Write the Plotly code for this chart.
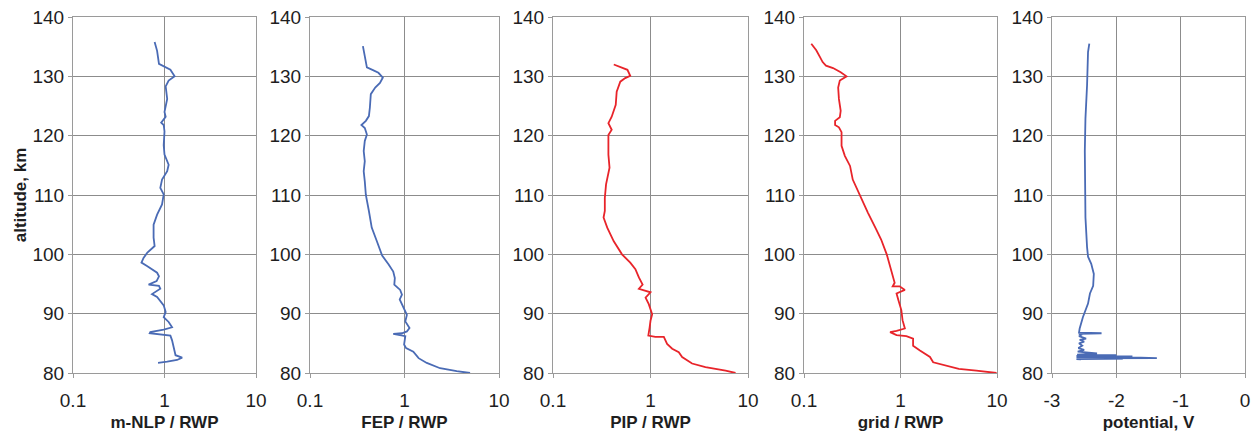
import plotly.graph_objects as go

# ---- data ----
alt_nlp = [135.8, 134.3, 132.1, 131.5, 131.1, 130.0, 129.3, 128.3, 126.2, 124.0, 123.2, 122.2, 121.8, 120.7, 118.4,
           116.8, 115.1, 114.0, 112.6, 111.2, 110.1, 108.4, 106.7, 105.0, 102.8, 101.4, 100.3, 99.4, 98.6, 98.0,
           96.9, 96.3, 95.5, 94.9, 94.7, 94.2, 93.3, 92.8, 91.4, 90.3, 89.4, 88.6, 87.7, 87.3, 87.1, 86.9, 86.7,
           86.5, 86.3, 85.5, 84.1, 83.0, 82.6, 82.2, 81.9, 81.7]
val_nlp = [0.78, 0.83, 0.87, 1.03, 1.16, 1.29, 1.11, 1.03, 1.07, 1.00, 1.03, 0.92, 0.98, 1.00, 0.98,
           1.00, 1.11, 1.07, 0.94, 0.90, 0.98, 0.94, 0.83, 0.76, 0.76, 0.78, 0.65, 0.59, 0.56, 0.65,
           0.83, 0.87, 0.82, 0.67, 0.87, 0.90, 0.73, 0.83, 0.98, 1.03, 0.98, 1.11, 1.21, 0.98, 0.83, 0.70, 0.69,
           0.90, 1.16, 1.21, 1.26, 1.32, 1.56, 1.37, 1.07, 0.85]

alt_fep = [135.1, 133.7, 132.0, 131.5, 131.0, 130.6, 129.8, 128.9, 128.1, 127.0, 124.7, 123.3, 122.5, 121.8, 121.3,
           120.2, 119.1, 117.4, 115.7, 114.0, 112.3, 110.0, 107.3, 104.5, 102.2, 99.8, 98.3, 97.1, 96.0, 94.9,
           94.0, 93.2, 92.4, 91.0, 89.8, 88.7, 87.6, 87.0, 86.7, 86.6, 86.2, 84.8, 84.2, 83.6, 82.5, 81.7,
           80.8, 80.3, 80.0]
val_fep = [0.363, 0.375, 0.39, 0.40, 0.47, 0.53, 0.59, 0.55, 0.49, 0.44, 0.43, 0.42, 0.39, 0.35, 0.38,
           0.40, 0.38, 0.37, 0.38, 0.37, 0.38, 0.39, 0.42, 0.45, 0.51, 0.58, 0.68, 0.76, 0.79, 0.78,
           0.90, 0.94, 0.89, 0.98, 1.06, 1.02, 1.13, 1.06, 0.94, 0.76, 1.02, 0.99, 1.04, 1.24, 1.41, 1.72,
           2.38, 3.57, 4.94]

alt_pip = [132.0, 131.4, 131.1, 130.1, 129.7, 129.1, 127.4, 125.2, 123.2, 122.1, 121.0, 120.1, 116.8, 114.6, 111.8,
           109.5, 107.3, 106.2, 104.5, 102.2, 100.0, 98.6, 97.5, 96.1, 94.9, 94.2, 93.9, 93.6, 92.7, 91.6,
           89.9, 88.8, 87.7, 86.6, 86.3, 86.1, 86.1, 84.9, 84.1, 83.5, 82.7, 81.6, 81.0, 80.4, 80.0]
val_pip = [0.42, 0.51, 0.58, 0.62, 0.55, 0.49, 0.45, 0.44, 0.40, 0.37, 0.40, 0.37, 0.37, 0.38, 0.35,
           0.34, 0.34, 0.33, 0.36, 0.42, 0.51, 0.62, 0.70, 0.76, 0.83, 0.76, 0.89, 1.00, 0.89, 0.96,
           1.04, 1.00, 0.98, 0.96, 0.95, 1.12, 1.37, 1.48, 1.67, 1.95, 2.11, 2.67, 3.66, 5.89, 7.45]

alt_grid = [135.5, 134.4, 133.2, 132.4, 131.8, 131.4, 130.7, 130.0, 129.3, 128.1, 126.2, 124.2, 123.1, 122.5, 121.8,
            121.4, 120.6, 118.3, 116.6, 114.9, 112.6, 109.8, 107.0, 104.2, 102.5, 100.0, 98.0, 96.3, 95.2, 94.6,
            94.6, 94.0, 93.4, 92.3, 90.6, 88.9, 87.5, 87.1, 86.9, 86.4, 86.2, 85.8, 84.6, 83.8, 82.7, 81.8,
            81.2, 80.7, 80.4, 80.0]
val_grid = [0.119, 0.134, 0.147, 0.156, 0.169, 0.20, 0.24, 0.276, 0.235, 0.226, 0.23, 0.24, 0.235, 0.21, 0.21,
            0.23, 0.245, 0.245, 0.265, 0.30, 0.32, 0.38, 0.46, 0.56, 0.63, 0.72, 0.78, 0.84, 0.87, 0.83,
            0.98, 1.11, 0.91, 0.95, 1.02, 1.05, 1.11, 0.91, 0.78, 0.91, 1.15, 1.35, 1.35, 1.59, 2.02, 2.18,
            3.04, 4.02, 6.12, 9.9]

alt_pot = [135.5, 134.1, 128.5, 122.9, 117.4, 111.8, 106.2, 101.2, 99.6, 98.4, 96.7, 94.7, 93.4, 91.7, 89.4,
           87.5, 86.8, 86.7, 86.6, 86.4, 86.2, 85.8, 85.6, 85.3, 85.0, 84.6, 84.2, 83.9, 83.6, 83.3,
           83.1, 83.0, 82.9, 82.8, 82.7, 82.6, 82.55, 82.5, 82.45, 82.4, 82.35, 82.3]
val_pot = [-2.42, -2.44, -2.455, -2.48, -2.49, -2.49, -2.48, -2.455, -2.44, -2.39, -2.35, -2.36, -2.41, -2.44, -2.52,
           -2.57, -2.58, -2.23, -2.58, -2.55, -2.58, -2.47, -2.57, -2.50, -2.58, -2.53, -2.59, -2.50, -2.60, -2.30,
           -2.61, -2.00, -2.62, -1.75, -2.62, -1.62, -2.62, -1.37, -2.62, -1.90, -2.62, -2.55]

panels = [
    (alt_nlp, val_nlp, "m-NLP / RWP", "#4a6bb5", True),
    (alt_fep, val_fep, "FEP / RWP", "#4a6bb5", True),
    (alt_pip, val_pip, "PIP / RWP", "#e8242a", True),
    (alt_grid, val_grid, "grid / RWP", "#e8242a", True),
    (alt_pot, val_pot, "potential, V", "#4a6bb5", False),
]
log_ticks = [0.1, 1, 10]
log_ticktext = ["0.1", "1", "10"]
lin_ticks = [-3, -2, -1, 0]
lin_ticktext = ["-3", "-2", "-1", "0"]
alt_ticks = [80, 90, 100, 110, 120, 130, 140]

W, H = 1251, 432
px_dom = [(73, 256), (310, 499), (553, 748), (804, 997), (1052, 1245)]
ydom = [59 / H, 415 / H]

FONT = "Liberation Sans, Arial, sans-serif"
TXT = "#1e1e1e"
fig = go.Figure()
layout = dict(
    width=W, height=H, margin=dict(l=0, r=0, t=0, b=0, autoexpand=False),
    paper_bgcolor="white", plot_bgcolor="white", showlegend=False,
    font=dict(family=FONT, size=19, color=TXT),
)
for i, (alt, val, title, color, is_log) in enumerate(panels):
    n = "" if i == 0 else str(i + 1)
    fig.add_trace(go.Scatter(x=val, y=alt, mode="lines", xaxis="x" + n, yaxis="y" + n,
                             line=dict(color=color, width=1.8)))
    ax = dict(
        domain=[px_dom[i][0] / W, px_dom[i][1] / W], anchor="y" + n, automargin=False,
        showgrid=True, gridcolor="#8c8c8c", gridwidth=1,
        showline=True, linecolor="#9a9a9a", linewidth=1, mirror=True,
        ticks="outside", ticklen=4, tickcolor="#9a9a9a",
        ticklabelstandoff=6,
        tickfont=dict(size=19, family=FONT, color=TXT),
        title=dict(text="<b>" + title + "</b>", font=dict(size=17, family=FONT, color=TXT), standoff=8),
        zeroline=False,
    )
    if is_log:
        ax.update(type="log", range=[-1, 1], tickvals=log_ticks, ticktext=log_ticktext)
    else:
        ax.update(type="linear", range=[-3, 0], tickvals=lin_ticks, ticktext=lin_ticktext)
    ay = dict(
        domain=ydom, anchor="x" + n, range=[80, 140], tickvals=alt_ticks, automargin=False,
        showgrid=True, gridcolor="#8c8c8c", gridwidth=1,
        showline=True, linecolor="#9a9a9a", linewidth=1, mirror=True,
        ticks="outside", ticklen=4, tickcolor="#9a9a9a",
        tickfont=dict(size=19, family=FONT, color=TXT),
        zeroline=False,
    )
    if i == 0:
        ay["title"] = dict(text="<b>altitude, km</b>", font=dict(size=17, family=FONT, color=TXT), standoff=1)
    layout["xaxis" + n] = ax
    layout["yaxis" + n] = ay

fig.update_layout(**layout)
fig.write_html("out.html")
